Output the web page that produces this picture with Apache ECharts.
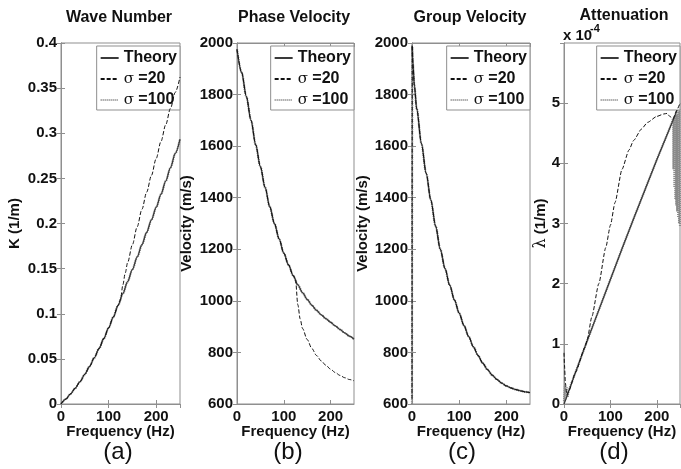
<!DOCTYPE html>
<html>
<head>
<meta charset="utf-8">
<script src="https://cdn.jsdelivr.net/npm/echarts@6/dist/echarts.min.js"></script>
<style>
  html, body { margin: 0; padding: 0; background: #fff; }
  #chart { width: 681px; height: 469px; }
</style>
</head>
<body>
<div id="chart"></div>
<script>
// frequency samples (Hz)
const freq = [0, 10, 20, 30, 40, 50, 60, 70, 80, 90, 100, 110, 120, 130, 140, 150, 160, 170, 180, 190, 200, 210, 220, 230, 240, 250]

// (a) wave number K (1/m)
const kTheory = [0, 0.0053, 0.0112, 0.0176, 0.0249, 0.0329, 0.0417, 0.0513, 0.0615, 0.0726, 0.0844, 0.0965, 0.1093, 0.1224, 0.1357, 0.1491, 0.1627, 0.1765, 0.1903, 0.2041, 0.2179, 0.2323, 0.2469, 0.2620, 0.2775, 0.2934]
const kSigma100 = [0, 0.0053, 0.0112, 0.0176, 0.0249, 0.0329, 0.0417, 0.0513, 0.0615, 0.0726, 0.0844, 0.0965, 0.1093, 0.1224, 0.1357, 0.1491, 0.1627, 0.1765, 0.1903, 0.2041, 0.2179, 0.2323, 0.2469, 0.2620, 0.2775, 0.2934]
const freq20 = [0, 10, 20, 30, 40, 50, 60, 70, 80, 90, 100, 110, 120, 125, 130, 135, 140, 150, 160, 170, 180, 190, 200, 210, 220, 230, 240, 250]
const kSigma20 = [0, 0.0053, 0.0112, 0.0176, 0.0249, 0.0329, 0.0417, 0.0513, 0.0615, 0.0726, 0.0844, 0.0965, 0.1093, 0.1155, 0.132, 0.1452, 0.1568, 0.1765, 0.1963, 0.2157, 0.2347, 0.2533, 0.2721, 0.2909, 0.3094, 0.3276, 0.3453, 0.3623]

// (b) phase velocity (m/s)
const phaseTheory = [1975, 1885, 1792, 1700, 1605, 1520, 1440, 1365, 1300, 1240, 1185, 1140, 1098, 1062, 1032, 1006, 983, 963, 946, 931, 917, 903, 889, 876, 863, 851]
const phaseSigma100 = [1975, 1885, 1792, 1700, 1605, 1520, 1440, 1365, 1300, 1240, 1185, 1140, 1098, 1062, 1032, 1006, 983, 963, 946, 931, 917, 903, 889, 876, 863, 851]
const phaseSigma20 = [1975, 1885, 1792, 1700, 1605, 1520, 1440, 1365, 1300, 1240, 1185, 1140, 1098, 1082, 985, 930, 893, 850, 815, 788, 767, 750, 735, 722, 711, 702, 695, 690]

// (c) group velocity (m/s)
const freqG = [0, 2, 5, 10, 20, 30, 40, 50, 60, 70, 80, 90, 100, 110, 120, 130, 140, 150, 160, 170, 180, 190, 200, 210, 220, 230, 240, 250]
const groupTheory = [1990, 1920, 1835, 1745, 1610, 1495, 1390, 1290, 1200, 1125, 1060, 1003, 952, 905, 862, 822, 788, 758, 733, 712, 695, 681, 670, 662, 656, 651, 647, 644]
const freqG20 = [0, 0.6, 2, 5, 10, 20, 30, 40, 50, 60, 70, 80, 90, 100, 110, 120, 130, 140, 150, 160, 170, 180, 190, 200, 210, 220, 230, 240, 250]
const groupSigma20 = [620, 1990, 1920, 1835, 1745, 1610, 1495, 1390, 1290, 1200, 1125, 1060, 1003, 952, 905, 862, 822, 788, 758, 733, 712, 695, 681, 670, 662, 656, 651, 647, 644]
const groupSigma100 = [600, 1985, 1920, 1835, 1745, 1610, 1495, 1390, 1290, 1200, 1125, 1060, 1003, 952, 905, 862, 822, 788, 758, 733, 712, 695, 681, 670, 662, 656, 651, 647, 644]

// (d) attenuation, in units of 1e-4 (1/m)
const freqA = [0, 5, 10, 25, 50, 75, 100, 125, 150, 175, 200, 225, 250]
const attTheory = [0, 0.1, 0.21, 0.53, 1.05, 1.56, 2.07, 2.58, 3.08, 3.57, 4.06, 4.53, 5.0]
const freqA20 = [0, 1, 3, 6, 10, 25, 45, 50, 60, 75, 90, 100, 110, 125, 140, 150, 167, 180, 200, 215, 222, 228, 235, 242, 250]
const attSigma20 = [0.85, 0.65, 0.35, 0.15, 0.21, 0.53, 0.94, 1.07, 1.45, 2.0, 2.6, 2.97, 3.35, 3.9, 4.22, 4.38, 4.57, 4.68, 4.78, 4.82, 4.83, 4.78, 4.74, 4.87, 5.0]
const freqA100 = [0, 2, 4, 6, 8, 10, 25, 50, 75, 100, 125, 150, 175, 200, 225, 232, 235, 236, 237, 238, 239, 240, 241, 242, 243, 244, 245, 246, 247, 248, 249, 250]
const attSigma100 = [0.05, 0.3, 0.08, 0.28, 0.12, 0.22, 0.53, 1.05, 1.56, 2.07, 2.58, 3.08, 3.57, 4.06, 4.53, 4.67, 4.74, 3.9, 4.76, 3.6, 4.78, 3.4, 4.8, 3.3, 4.82, 3.2, 4.85, 3.1, 4.88, 3.0, 4.9, 2.95]

const legendNames = ['Theory', 'σ =20', 'σ =100']
const titles = ['Wave Number', 'Phase Velocity', 'Group Velocity', 'Attenuation']
const panelTags = ['(a)', '(b)', '(c)', '(d)']
const yNames = ['K (1/m)', 'Velocity (m/s)', 'Velocity (m/s)', '{g|λ} (1/m)']

const FONT = '"Liberation Sans", Arial, sans-serif'

const pairs = (xs, ys) => xs.map((x, i) => [x, ys[i]])

const panels = [
  { theory: pairs(freq, kTheory), s20: pairs(freq20, kSigma20), s100: pairs(freq, kSigma100) },
  { theory: pairs(freq, phaseTheory), s20: pairs(freq20, phaseSigma20), s100: pairs(freq, phaseSigma100) },
  { theory: pairs(freqG, groupTheory), s20: pairs(freqG20, groupSigma20), s100: pairs(freqG20, groupSigma100) },
  { theory: pairs(freqA, attTheory), s20: pairs(freqA20, attSigma20), s100: pairs(freqA100, attSigma100) }
]

const grids = [
  { left: 61, top: 43, width: 119, height: 361 },
  { left: 237, top: 43, width: 117, height: 361 },
  { left: 412, top: 43, width: 118, height: 361 },
  { left: 564, top: 43, width: 116, height: 361 }
]
const yScales = [
  { min: 0, max: 0.4, interval: 0.05, gap: 39 },
  { min: 600, max: 2000, interval: 200, gap: 43 },
  { min: 600, max: 2000, interval: 200, gap: 42 },
  { min: 0, max: 6, interval: 1, gap: 15 }
]
const titleX = [119, 294, 470, 624]
const tagX = [118, 288, 462, 614]

const frame = '#8f8f8f'
const tickLabel = { color: '#111', fontSize: 15, fontWeight: 'bold', fontFamily: FONT, formatter: v => String(+v.toFixed(4)) }

const xAxes = []
const yAxes = []
const series = []

grids.forEach((g, i) => {
  xAxes.push({
    type: 'value', gridIndex: i, min: 0, max: 250, interval: 100, position: 'bottom',
    name: 'Frequency (Hz)', nameLocation: 'middle', nameGap: 20, nameMoveOverlap: false,
    nameTextStyle: { color: '#111', fontSize: 15, fontWeight: 'bold', fontFamily: FONT },
    axisLine: { show: true, lineStyle: { color: frame } },
    axisTick: { show: true, inside: true, length: 4, lineStyle: { color: frame } },
    axisLabel: Object.assign({ margin: 5, showMaxLabel: false }, tickLabel),
    splitLine: { show: false }
  })
  xAxes.push({
    type: 'value', gridIndex: i, min: 0, max: 250, interval: 100, position: 'top',
    axisLine: { show: true, lineStyle: { color: frame } },
    axisTick: { show: true, inside: true, length: 4, lineStyle: { color: frame } },
    axisLabel: { show: false },
    splitLine: { show: false }
  })
  const ys = yScales[i]
  yAxes.push({
    type: 'value', gridIndex: i, min: ys.min, max: ys.max, interval: ys.interval, position: 'left',
    name: yNames[i], nameLocation: 'middle', nameGap: ys.gap, nameMoveOverlap: false,
    nameTextStyle: {
      color: '#111', fontSize: 15, fontWeight: 'bold', fontFamily: FONT,
      rich: { g: { fontSize: 16, fontWeight: 'normal', fontFamily: '"DejaVu Serif", serif', color: '#111' } }
    },
    axisLine: { show: true, lineStyle: { color: frame } },
    axisTick: { show: true, inside: true, length: 4, lineStyle: { color: frame } },
    axisLabel: Object.assign({ margin: 4, showMaxLabel: i !== 3 }, tickLabel),
    splitLine: { show: false }
  })
  yAxes.push({
    type: 'value', gridIndex: i, min: ys.min, max: ys.max, interval: ys.interval, position: 'right',
    axisLine: { show: true, lineStyle: { color: frame } },
    axisTick: { show: true, inside: true, length: 4, lineStyle: { color: frame } },
    axisLabel: { show: false },
    splitLine: { show: false }
  })

  const p = panels[i]
  const curved = i === 3 ? false : 0.3
  const base = { type: 'line', xAxisIndex: 2 * i, yAxisIndex: 2 * i, symbol: 'none', silent: true, animation: false, smoothMonotone: 'x' }
  series.push(Object.assign({}, base, {
    name: 'σ =100', data: p.s100, z: 2, smooth: curved,
    itemStyle: { color: '#8a8a8a' },
    lineStyle: { color: '#8a8a8a', width: 2.2, type: [1, 1] }
  }))
  series.push(Object.assign({}, base, {
    name: 'Theory', data: p.theory, z: 3, smooth: curved,
    itemStyle: { color: '#3a3a3a' },
    lineStyle: { color: '#3a3a3a', width: 1.3, type: 'solid' }
  }))
  series.push(Object.assign({}, base, {
    name: 'σ =20', data: p.s20, z: 4, smooth: i === 3 ? 0.2 : 0.3,
    itemStyle: { color: '#111' },
    lineStyle: { color: '#111', width: 1, type: [4, 2] }
  }))
})

const legends = grids.map(g => ({
  data: legendNames,
  orient: 'vertical',
  right: 681 - (g.left + g.width),
  top: 46,
  backgroundColor: '#fff',
  borderColor: '#8f8f8f',
  borderWidth: 1,
  padding: [4, 3, 2, 3],
  itemGap: 5,
  itemWidth: 18,
  itemHeight: 12,
  selectedMode: false,
  itemStyle: { opacity: 0 },
  formatter: name => name.replace('σ', '{g|σ}'),
  textStyle: {
    color: '#111', fontSize: 16, fontWeight: 'bold', fontFamily: FONT, lineHeight: 16,
    rich: { g: { fontSize: 15, fontWeight: 'normal', fontFamily: '"DejaVu Serif", serif', color: '#111' } }
  }
}))

const texts = []
titles.forEach((t, i) => {
  texts.push({
    type: 'text', x: titleX[i], y: i === 3 ? 16 : 18,
    style: { text: t, fill: '#111', fontSize: 16, fontWeight: 'bold', fontFamily: FONT, align: 'center', verticalAlign: 'middle' }
  })
})
panelTags.forEach((t, i) => {
  texts.push({
    type: 'text', x: tagX[i], y: 452,
    style: { text: t, fill: '#111', fontSize: 24, fontFamily: FONT, align: 'center', verticalAlign: 'middle' }
  })
})
texts.push({
  type: 'text', x: 563, y: 36,
  style: { text: 'x 10', fill: '#111', fontSize: 15, fontWeight: 'bold', fontFamily: FONT, align: 'left', verticalAlign: 'middle' }
})
texts.push({
  type: 'text', x: 590, y: 29,
  style: { text: '-4', fill: '#111', fontSize: 11, fontWeight: 'bold', fontFamily: FONT, align: 'left', verticalAlign: 'middle' }
})

const chart = echarts.init(document.getElementById('chart'))
chart.setOption({
  animation: false,
  backgroundColor: '#fff',
  grid: grids.map(g => Object.assign({ show: true, borderColor: frame, borderWidth: 1, backgroundColor: '#fff' }, g)),
  xAxis: xAxes,
  yAxis: yAxes,
  legend: legends,
  series: series,
  graphic: texts
})
</script>
</body>
</html>
